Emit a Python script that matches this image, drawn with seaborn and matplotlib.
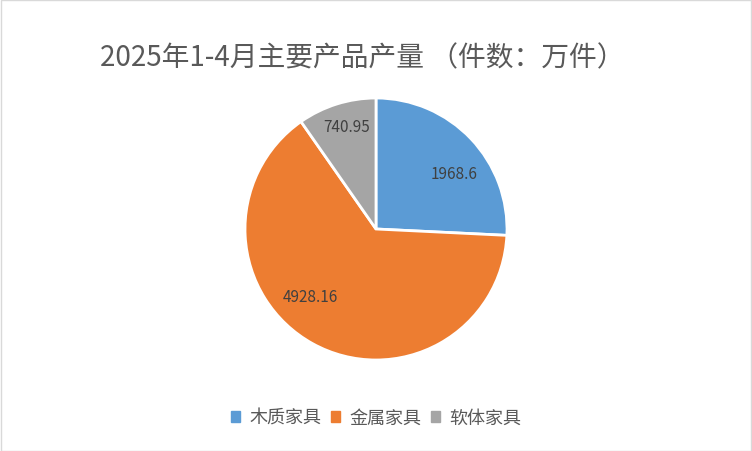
import matplotlib
matplotlib.use("Agg")
import matplotlib.pyplot as plt
import matplotlib.patches as mpatches
import seaborn as sns

# Data
categories = ["木质家具", "金属家具", "软体家具"]
values = [1968.6, 4928.16, 740.95]
value_labels = ["1968.6", "4928.16", "740.95"]
colors = ["#5B9BD5", "#ED7D31", "#A5A5A5"]

# label placement inside the slices (in pie-radius units), as in the reference
label_xy = [(0.595, 0.427), (-0.504, -0.519), (-0.221, 0.779)]

sns.set_theme(style="white")
plt.rcParams["font.family"] = ["Noto Sans CJK SC", "DejaVu Sans"]

fig = plt.figure(figsize=(7.52, 4.52), dpi=100)
fig.patch.set_facecolor("white")

# Pie axes placed so that the pie sits where it does in the reference
ax = fig.add_axes([245 / 752, 91 / 452, 262 / 752, 262 / 452])
wedges, texts = ax.pie(
    values,
    labels=value_labels,
    colors=colors,
    startangle=90,
    counterclock=False,
    labeldistance=0.78,
    radius=1,
    wedgeprops={"edgecolor": "white", "linewidth": 2},
    textprops={"fontsize": 11, "color": "#404040"},
)
for t, xy in zip(texts, label_xy):
    t.set_position(xy)
    t.set_horizontalalignment("center")
    t.set_verticalalignment("center")
ax.set_xlim(-1, 1)
ax.set_ylim(-1, 1)
ax.set_aspect("equal")
ax.axis("off")

fig.text(
    362 / 752, 0.872,
    "2025年1-4月主要产品产量 （件数：万件）",
    ha="center", va="center", fontsize=20, color="#595959",
)

handles = [mpatches.Patch(color=c, label=l) for c, l in zip(colors, categories)]
fig.legend(
    handles=handles,
    loc="center",
    bbox_to_anchor=(0.5, 0.073),
    ncol=3,
    frameon=False,
    fontsize=13,
    handlelength=0.55,
    handleheight=0.55,
    handletextpad=0.5,
    columnspacing=0.5,
    labelcolor="#595959",
)

# Light grey chart border
fig.add_artist(mpatches.Rectangle(
    (0.5 / 752, 0.5 / 452), 1 - 1.5 / 752, 1 - 1.5 / 452,
    transform=fig.transFigure, fill=False, edgecolor="#D9D9D9", linewidth=1,
))

fig.savefig("out.png", dpi=100)
